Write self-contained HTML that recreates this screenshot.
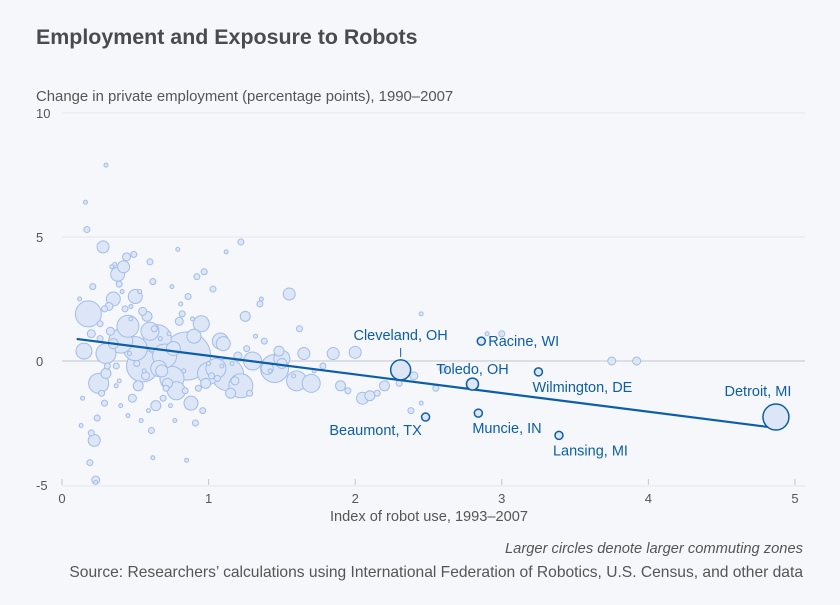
<!DOCTYPE html>
<html><head><meta charset="utf-8"><style>
body{margin:0;background:#f5f7fb;font-family:"Liberation Sans",sans-serif;}
svg text{font-family:"Liberation Sans",sans-serif;}
</style></head><body>
<svg id="chart" width="840" height="600" xmlns="http://www.w3.org/2000/svg">
<rect width="840" height="600" fill="#f5f7fb"/>
<text x="36" y="44" font-size="21.4" font-weight="bold" fill="#4b4b4f">Employment and Exposure to Robots</text>
<text x="36" y="101" font-size="14.9" fill="#555">Change in private employment (percentage points), 1990–2007</text>
<g id="grid"></g><g id="pts"></g><g id="hl"></g>
<text x="429" y="521" font-size="14.6" fill="#555" text-anchor="middle">Index of robot use, 1993–2007</text>
<text x="803" y="553" font-size="14.7" font-style="italic" fill="#555" text-anchor="end">Larger circles denote larger commuting zones</text>
<text x="803" y="577" font-size="15.6" fill="#555" text-anchor="end">Source: Researchers’ calculations using International Federation of Robotics, U.S. Census, and other data</text>
</svg>
<script>
const xTicks=[0,1,2,3,4,5];
const yTicks=[10,5,0,-5];
// background points: x, y, radius(px)
const ptX=[0.85,0.18,1.13,1.22,1.45,0.45,0.65,0.5,0.3,0.95,1.6,0.25,0.55,0.75,1.05,0.38,0.7,1.3,1.0,0.6,0.4,0.15,0.22,0.28,0.35,0.42,0.5,0.58,0.66,0.78,0.9,1.1,1.25,1.35,1.5,1.7,1.85,2.0,2.1,2.2,2.4,2.6,0.2,0.3,0.35,0.48,0.55,0.62,0.72,0.8,0.88,1.15,1.4,1.55,0.26,0.32,0.44,0.52,0.68,0.82,0.98,1.08,1.2,0.17,0.21,0.33,0.41,0.57,0.64,0.76,0.92,0.12,0.14,0.24,0.27,0.36,0.46,0.54,0.6,0.74,0.86,0.96,1.02,1.18,1.28,1.38,1.48,1.62,1.78,1.95,2.15,2.3,2.45,2.55,3.75,3.92,1.5,1.65,1.9,2.05,0.19,0.23,0.29,0.37,0.43,0.49,0.53,0.63,0.71,0.79,0.83,0.93,1.03,1.12,0.31,0.39,0.47,0.59,0.69,0.81,0.91,1.06,1.16,1.26,1.36,0.16,0.26,0.34,0.4,0.51,0.61,0.73,0.84,0.97,1.09,0.2,0.29,0.37,0.45,0.56,0.67,0.77,0.89,1.0,1.22,1.32,1.42,1.58,1.72,0.13,0.23,0.3,0.39,0.47,0.62,0.75,0.85,2.45,2.9,3.0,2.38,2.5];
const ptY=[0.2,1.9,-0.55,-1.0,-0.3,1.4,0.9,0.5,0.3,1.5,-0.8,-0.9,-0.2,-0.7,-0.3,3.5,0.2,0.0,-0.5,1.2,0.8,0.4,-3.2,4.6,2.5,3.8,2.6,1.8,-0.3,-1.2,1.0,0.7,1.8,2.3,0.1,-0.9,0.3,0.35,-1.4,-1.0,-0.6,-0.3,1.1,-0.5,0.7,-1.5,2.0,3.2,-0.9,1.6,-1.7,-1.3,-0.3,2.7,1.5,2.2,4.2,-1.0,-0.4,1.9,-0.9,0.8,0.2,5.3,3.0,1.2,2.8,-0.6,-1.8,0.5,3.4,2.5,-1.5,-2.3,-1.3,3.9,0.3,-2.4,4.0,-1.8,2.6,-2.0,-0.6,-0.8,-1.3,0.8,0.4,1.3,-0.2,-1.2,-1.3,-0.9,-1.7,-1.1,0.0,0.0,-0.1,0.3,-1.0,-1.5,-4.1,-4.8,-1.7,-0.2,2.1,4.3,2.8,1.3,-1.1,4.5,-0.4,-1.1,2.9,4.4,-0.2,-0.8,1.7,-2.0,-1.5,2.3,-2.5,-0.7,-0.1,0.5,2.5,6.4,0.9,3.8,-1.8,-0.1,-2.8,1.1,-1.2,3.6,-0.2,-2.9,2.1,-1.0,-2.2,-0.4,0.9,-2.4,1.7,-0.1,4.8,1.0,-0.4,-0.6,-0.4,-2.6,-4.9,7.9,3.1,2.2,-3.9,3.0,-4.0,1.9,1.1,1.1,-2.0,-1.9];
const ptR=[24,13,16,12,14,11,14,12,10,8,10,10,16,12,10,7,12,9,11,9,12,8,6,6,7,6,7,5,8,9,7,7,5,3,8,9,6,6,5,5,4,4,4,5,5,4,4,3,5,4,7,5,6,6,3,4,4,5,6,3,5,8,4,3,3,4,2,4,5,7,3,2,2,3,3,2,2,2,3,2,3,3,3,4,3,3,5,3,3,3,3,3,2,3,4,4,5,6,5,6,3,4,3,3,3,3,2,3,3,2,2,3,3,2,3,2,2,2,3,2,3,3,2,3,2,2,3,2,2,3,3,2,3,3,2,3,3,2,2,2,2,2,2,2,3,2,2,2,2,2,2,2,3,2,2,2,2,2,2,3,3];
// highlighted commuting zones
const hlName=["Cleveland, OH","Beaumont, TX","Toledo, OH","Racine, WI","Wilmington, DE","Muncie, IN","Lansing, MI","Detroit, MI"];
const hlX=[2.31,2.48,2.80,2.86,3.25,2.84,3.39,4.87];
const hlY=[-0.36,-2.26,-0.93,0.8,-0.44,-2.1,-3.0,-2.26];
const hlR=[10,4,6,4,4,4,4,13];
const fitX=[0.1,4.87];
const fitY=[0.89,-2.7];
const xs=v=>62+v*146.6, ys=v=>361-v*24.8;
const NS="http://www.w3.org/2000/svg";
function mk(tag,attrs,parent){const e=document.createElementNS(NS,tag);for(const k in attrs)e.setAttribute(k,attrs[k]);parent.appendChild(e);return e;}
const grid=document.getElementById('grid');
yTicks.forEach(t=>{
  if(t!==-5){const l=mk('line',{x1:62,x2:805,y1:ys(t),y2:ys(t),stroke:t===0?'#c4c6cc':'#e4e7ee','stroke-width':1},grid);
  
  }
  const tx=mk('text',{x:36,y:ys(t)+5,'font-size':13,fill:'#555'},grid);tx.textContent=t;
  
  
});
const ax=mk('line',{x1:62,x2:805,y1:ys(-5)+1,y2:ys(-5)+1,stroke:'#e4e7ee'},grid);


xTicks.forEach(t=>{
  const l=mk('line',{x1:xs(t),x2:xs(t),y1:ys(-5)-6,y2:ys(-5),stroke:'#c4c6cc'},grid);
  
  
  const tx=mk('text',{x:xs(t),y:503,'font-size':13,fill:'#555','text-anchor':'middle'},grid);tx.textContent=t;
  
  
});
const pts=document.getElementById('pts');
const order=ptX.map((_,i)=>i).sort((a,b)=>ptR[b]-ptR[a]);
order.forEach(i=>{
  const c=mk('circle',{cx:xs(ptX[i]),cy:ys(ptY[i]),r:ptR[i],fill:'#dce6f6',stroke:'#a3bde6','stroke-width':1},pts);
  
  
});
const hl=document.getElementById('hl');
const fl=mk('line',{x1:xs(fitX[0]),y1:ys(fitY[0]),x2:xs(fitX[1]),y2:ys(fitY[1]),stroke:'#0d5ea8','stroke-width':2.2},hl);


const lab=[[0,-30,'middle'],[-50,18,'middle'],[0,-10,'middle'],[7,5,'start'],[-6,20,'start'],[-6,20,'start'],[-6,20,'start'],[-18,-21,'middle']];
hlX.forEach((v,i)=>{
  const cx=xs(v),cy=ys(hlY[i]);
  const c=mk('circle',{cx:cx,cy:cy,r:hlR[i],fill:'#dce6f6',stroke:'#0d5ea8','stroke-width':1.5},hl);
  
  
  const t=mk('text',{x:cx+lab[i][0],y:cy+lab[i][1],'font-size':14.5,fill:'#0d5ea8','text-anchor':lab[i][2]},hl);
  t.textContent=hlName[i];
  
  
});
const tick=mk('line',{x1:xs(hlX[0]),x2:xs(hlX[0]),y1:ys(hlY[0])-22,y2:ys(hlY[0])-13,stroke:'#0d5ea8'},hl);


</script>
</body></html>
